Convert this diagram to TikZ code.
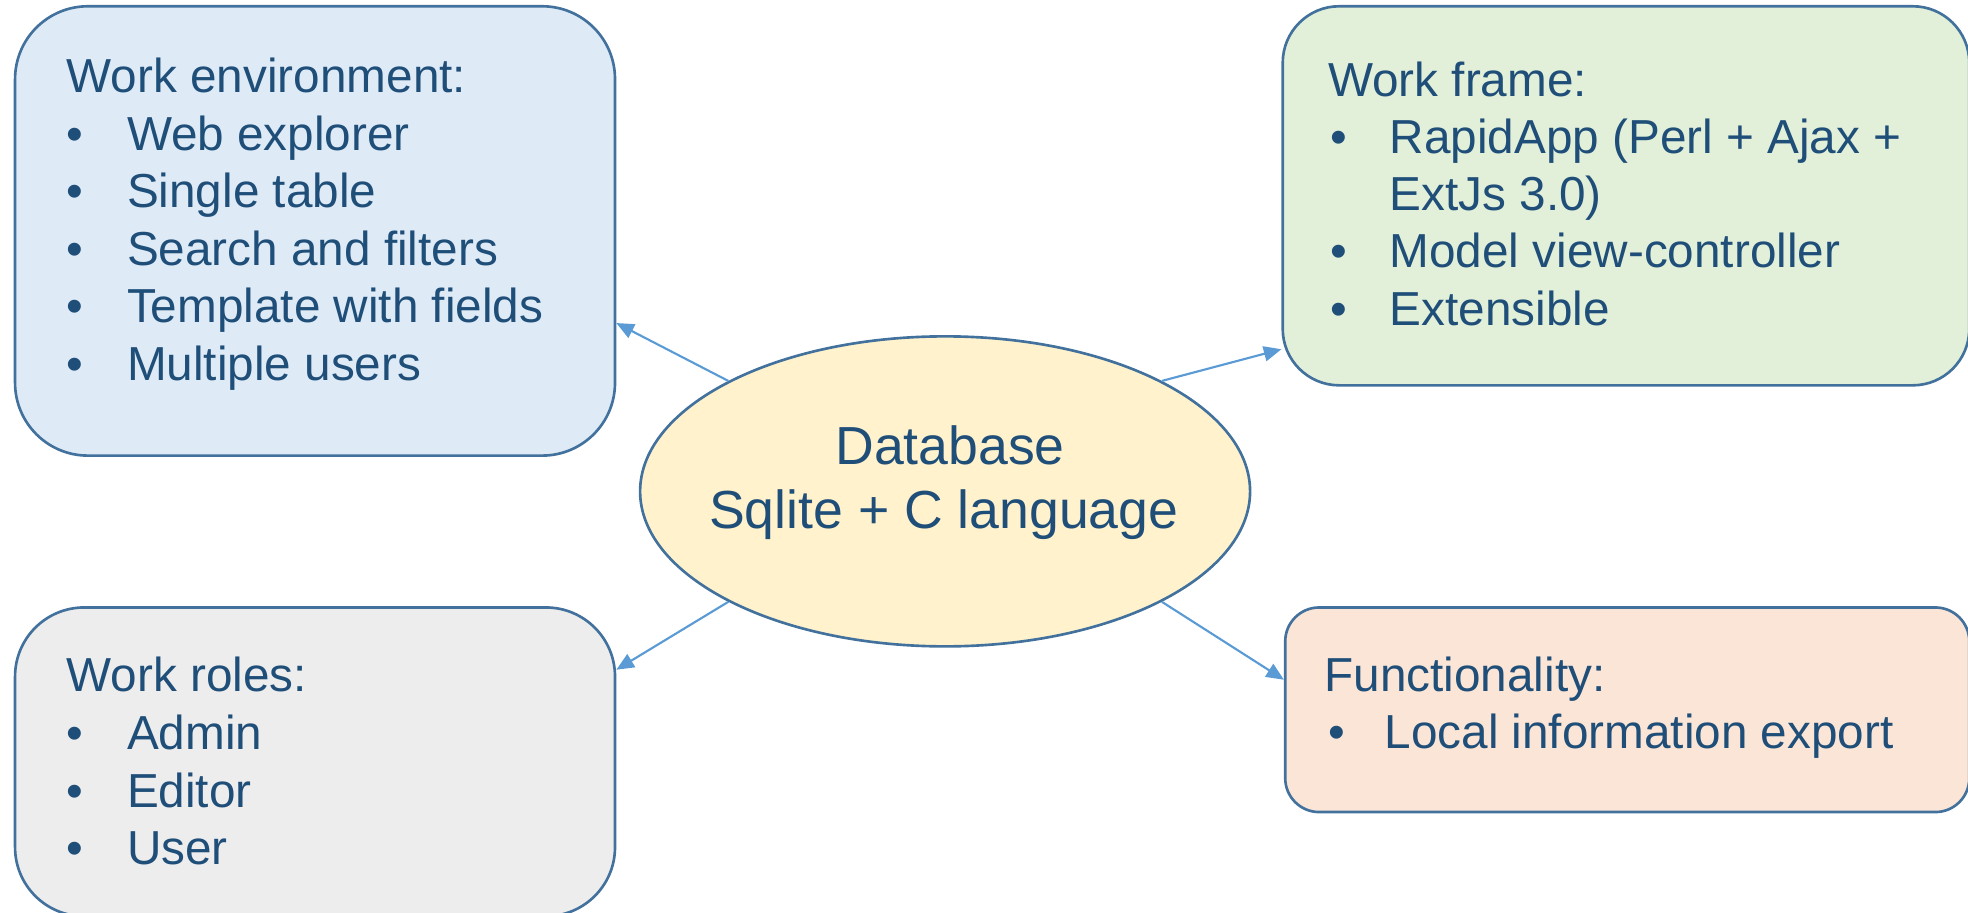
\documentclass[tikz,border=0pt]{standalone}
\usepackage{fontspec}
\setmainfont{Liberation Sans}
\usetikzlibrary{arrows.meta,shapes.geometric}
\definecolor{txtc}{HTML}{1F4E79}
\definecolor{bord}{HTML}{41719C}
\definecolor{arrc}{HTML}{5B9BD5}
\definecolor{fblue}{HTML}{DEEBF7}
\definecolor{fgreen}{HTML}{E2F0D9}
\definecolor{fgrey}{HTML}{EDEDED}
\definecolor{forange}{HTML}{FBE5D6}
\definecolor{fyellow}{HTML}{FFF2CC}
\tikzset{
  box/.style={draw=bord, line width=2.1pt, rounded corners=#1, inner sep=0pt},
  txt/.style={font=\fontsize{38}{45.7}\selectfont, text=txtc, inner sep=0pt, anchor=base west},
  ctxt/.style={font=\fontsize{42.7}{50}\selectfont, text=txtc, inner sep=0pt, anchor=base},
  arr/.style={draw=arrc, line width=1.7pt, -{Triangle[length=14pt,width=12pt]}}
}
\newcommand{\bul}[1]{\makebox[#1][l]{•}}
\begin{document}
\begin{tikzpicture}[x=1pt,y=-1pt]
\useasboundingbox (0,0) rectangle (1568,727.4);
% boxes
\node[box=58pt, fill=fblue, minimum width=478pt, minimum height=358pt] (env) at (251,184) {};
\node[box=45pt, fill=fgreen, minimum width=547pt, minimum height=302pt] (frm) at (1295.5,156) {};
\node[box=55pt, fill=fgrey, minimum width=478pt, minimum height=246pt] (rol) at (251,607) {};
\node[box=27pt, fill=forange, minimum width=545pt, minimum height=163pt] (fun) at (1296.5,565.5) {};
\node[ellipse, draw=bord, line width=2.1pt, fill=fyellow, minimum width=486pt, minimum height=247pt, inner sep=0pt] (db) at (753,391.5) {};
% centre text
\node[ctxt] (db1) at (757,370) {Database};
\node[ctxt] (db2) at (752,421) {Sqlite + C language};
% work environment
\node[txt] (e0) at (53,74) {Work environment:};
\node[txt] (e1) at (53,120) {\bul{48pt}Web explorer};
\node[txt] (e2) at (53,165.7) {\bul{48pt}Single table};
\node[txt] (e3) at (53,211.4) {\bul{48pt}Search and filters};
\node[txt] (e4) at (53,257.1) {\bul{48pt}Template with fields};
\node[txt] (e5) at (53,302.8) {\bul{48pt}Multiple users};
% work frame
\node[txt] (f0) at (1058,76.5) {Work frame:};
\node[txt] (f1) at (1060,122) {\bul{47pt}RapidApp (Perl + Ajax +};
\node[txt] (f2) at (1107,167.7) {ExtJs 3.0)};
\node[txt] (f3) at (1060,213.4) {\bul{47pt}Model view-controller};
\node[txt] (f4) at (1060,259.1) {\bul{47pt}Extensible};
% work roles
\node[txt] (r0) at (53,551) {Work roles:};
\node[txt] (r1) at (53,597) {\bul{48pt}Admin};
\node[txt] (r2) at (53,643) {\bul{48pt}Editor};
\node[txt] (r3) at (53,689) {\bul{48pt}User};
% functionality
\node[txt] (u0) at (1055,551) {Functionality:};
\node[txt] (u1) at (1058,596.5) {\bul{45pt}Local information export};
% connectors
\draw[arr] (db.153) -- (env.-17);
\draw[arr] (db.27) -- (frm.204);
\draw[arr] (db.207) -- (rol.17);
\draw[arr] (db.333) -- (fun.175.5);
\end{tikzpicture}
\end{document}
